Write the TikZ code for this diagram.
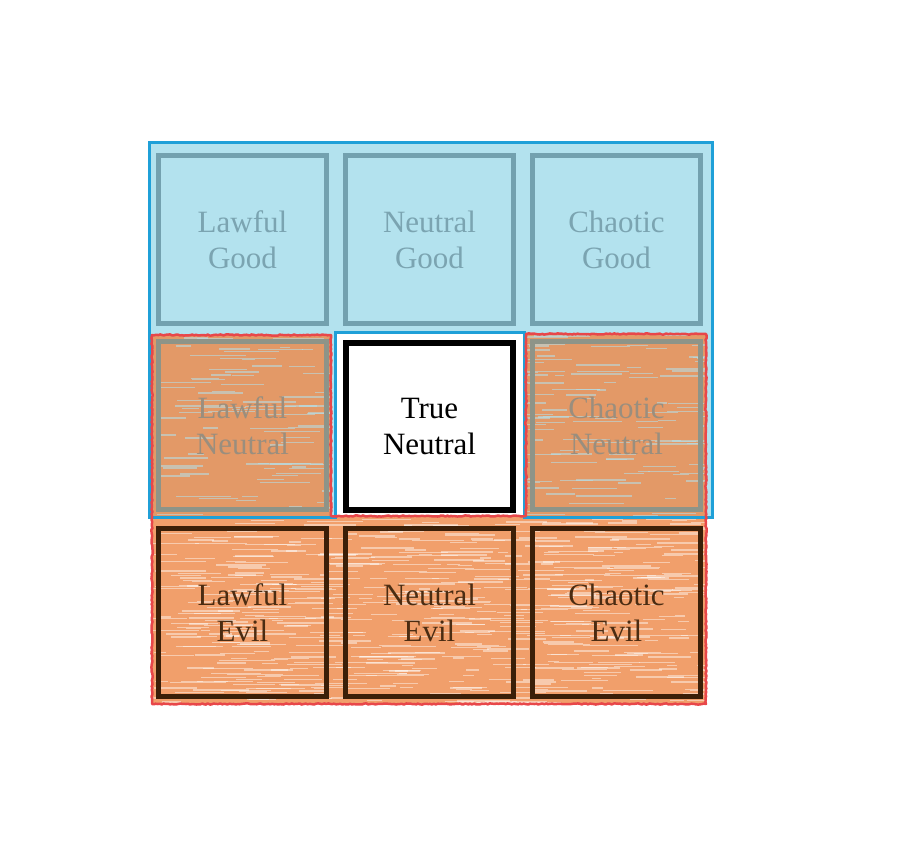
\documentclass[tikz,border=0pt]{standalone}
\usepackage{fontspec}
\setmainfont{Liberation Serif}
\usetikzlibrary{decorations.pathmorphing}
\definecolor{bluefill}{HTML}{B3E2EE}
\definecolor{blueline}{HTML}{1FA0D8}
\definecolor{orangefill}{HTML}{EE8A4A}
\definecolor{redline}{HTML}{E8474A}
\definecolor{goodline}{HTML}{73A1AF}
\definecolor{goodtext}{HTML}{7BA4B1}
\definecolor{neutline}{HTML}{8E9488}
\definecolor{neuttext}{HTML}{9A8E7E}
\definecolor{evilline}{HTML}{3B1F08}
\definecolor{eviltext}{HTML}{4B2C12}
\tikzset{
  cellbox/.style={draw, line width=5pt, minimum size=168pt, inner sep=0pt, align=center,
    font=\fontsize{31}{36}\selectfont},
  goodbox/.style={cellbox, draw=goodline, text=goodtext},
  neutbox/.style={cellbox, draw=neutline, text=neuttext},
  evilbox/.style={cellbox, draw=evilline, text=eviltext},
  truebox/.style={cellbox, draw=black, line width=6pt, fill=white, text=black},
  rough/.style={decorate, decoration={random steps, segment length=2pt, amplitude=0.6pt}}
}
\begin{document}
\begin{tikzpicture}[x=1pt,y=-1pt]
\useasboundingbox (0,0) rectangle (898,850);
% blue region
\fill[bluefill] (149,143) -- (712,143) -- (712,518) -- (524,518) -- (524,333) -- (335,333) -- (335,518) -- (149,518) -- cycle;
% orange region
\fill[orangefill, opacity=0.82] (152,335) -- (331,335) -- (331,516) -- (526,516) -- (526,334) -- (706,334) -- (706,704) -- (152,704) -- cycle;
% crayon texture
\pgfmathsetseed{7}
\begin{scope}
\clip (152,519) rectangle (706,704);
\foreach \i in {1,...,600} {
  \pgfmathsetmacro\xx{150+rnd*556}
  \pgfmathsetmacro\yy{519+rnd*186}
  \pgfmathsetmacro\ll{8+rnd*50}
  \draw[white, opacity=0.45, line width=1.3pt] (\xx,\yy) -- ++(\ll,0);
}
\end{scope}
\begin{scope}
\clip (152,335) rectangle (331,516) (526,334) rectangle (706,518);
\foreach \i in {1,...,300} {
  \pgfmathsetmacro\xx{150+rnd*556}
  \pgfmathsetmacro\yy{334+rnd*184}
  \pgfmathsetmacro\ll{8+rnd*50}
  \draw[bluefill, opacity=0.55, line width=1.3pt] (\xx,\yy) -- ++(\ll,0);
}
\end{scope}
% outlines
\draw[blueline, line width=3pt] (149,143) -- (712,143) -- (712,518) -- (524,518) -- (524,333) -- (335,333) -- (335,518) -- (149,518) -- cycle;
\draw[redline, line width=2.5pt, rough, line join=round] (152,335) -- (331,335) -- (331,516) -- (526,516) -- (526,334) -- (706,334) -- (706,704) -- (152,704) -- cycle;
% cells
\node[goodbox] (lg) at (242.5,239.5) {Lawful\\Good};
\node[goodbox] (ng) at (429.5,239.5) {Neutral\\Good};
\node[goodbox] (cg) at (616.5,239.5) {Chaotic\\Good};
\node[neutbox] (ln) at (242.5,426) {Lawful\\Neutral};
\node[truebox, minimum size=167pt] (tn) at (429.5,426.5) {True\\Neutral};
\node[neutbox] (cn) at (616.5,426) {Chaotic\\Neutral};
\node[evilbox] (le) at (242.5,612.5) {Lawful\\Evil};
\node[evilbox] (ne) at (429.5,612.5) {Neutral\\Evil};
\node[evilbox] (ce) at (616.5,612.5) {Chaotic\\Evil};
\end{tikzpicture}
\end{document}
